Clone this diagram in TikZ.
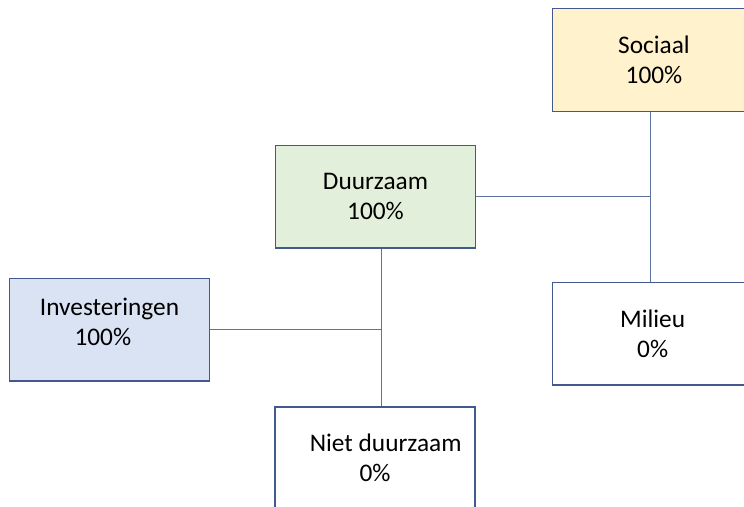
\documentclass[tikz,border=0pt]{standalone}
\usepackage{fontspec}
\setmainfont{Carlito}
\definecolor{rand}{HTML}{41598F}
\definecolor{geel}{HTML}{FFF2CC}
\definecolor{groen}{HTML}{E2EFDA}
\definecolor{blauw}{HTML}{DAE3F3}
\begin{document}
\begin{tikzpicture}[x=0.75pt,y=-0.75pt,
		blok/.style={draw=rand, line width=1pt, rectangle, align=center, inner sep=0pt,
			minimum width=150pt, minimum height=77pt, font=\fontsize{19}{22.5}\selectfont},
		lijn/.style={draw=rand!85, line width=0.7pt}]
				\useasboundingbox (0,0) rectangle (744,507);
					\node[blok, fill=geel, minimum width=146pt] (sociaal) at (650,60) {\hspace*{6pt}Sociaal\\\hspace*{6pt}100\%};
					\node[blok, minimum width=146pt] (milieu) at (650,333.6) {\hspace*{4pt}Milieu\\\hspace*{4pt}0\%};
					\node[blok, fill=groen] (duurzaam) at (375.5,196.5) {Duurzaam\\100\%};
					\node[blok, fill=blauw, text depth=11.5pt] (investeringen) at (109.5,329.5) {Investeringen\\100\%\hspace*{10pt}};
					\node[blok] (niet) at (375,458.2) {\hspace*{16pt}Niet duurzaam\\0\%};
					\coordinate (stam) at (381.5,0);
					% verbindingen
					\draw[lijn] (sociaal.south) -- (milieu.north);
					\draw[lijn] (duurzaam.east) -- (duurzaam.east -| sociaal.south);
					\draw[lijn] (duurzaam.south -| stam) -- (niet.north -| stam);
					\draw[lijn] (investeringen.east) -- (investeringen.east -| stam);
\end{tikzpicture}
\end{document}
